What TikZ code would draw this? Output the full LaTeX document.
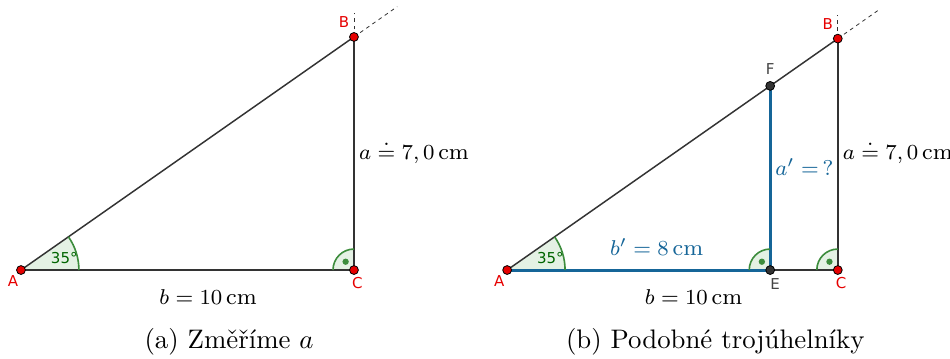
\documentclass[tikz,border=0pt]{standalone}
\usepackage{fontspec}
\newfontfamily\geofont{DejaVu Sans}
\definecolor{bodcerv}{RGB}{230,0,0}
\definecolor{cara}{RGB}{51,51,51}
\definecolor{sedy}{RGB}{68,68,68}
\definecolor{zelena}{RGB}{0,100,0}
\definecolor{oblouk}{RGB}{60,140,60}
\definecolor{zelenafill}{RGB}{228,241,228}
\definecolor{modra}{RGB}{21,101,152}
\usepackage{tikz}
\usetikzlibrary{positioning,calc}

\begin{document}
\begin{tikzpicture}[
    x=0.4366cm, y=0.4366cm,
    font=\fontsize{8.4}{10}\selectfont,
    strana/.style={draw=cara, line width=0.55pt},
    prodl/.style={draw=cara, dash pattern=on 1.4pt off 1.4pt, line width=0.3pt},
    modrastr/.style={draw=modra, line width=1.1pt},
    vypln/.style={fill=zelenafill},
    oblouk/.style={draw=oblouk, line width=0.6pt},
    tecka/.style={fill=oblouk},
    bod/.style={circle, draw=black, fill=bodcerv, line width=0.3pt, inner sep=0pt, minimum size=3.3pt},
    bodsedy/.style={bod, fill=cara},
    jmeno/.style={font=\geofont\fontsize{5.6}{6}\selectfont, text=bodcerv, inner sep=0pt},
    jmenosedy/.style={jmeno, text=sedy},
    stupne/.style={font=\geofont\fontsize{5.6}{6}\selectfont, text=zelena, inner sep=0pt}
  ]
    \useasboundingbox (-0.63,-2.67) rectangle (27.9,8.11);

    % (a) mereni strany a
    \coordinate (A) at (0,0);
    \coordinate (C) at (10,0);
    \coordinate (B) at (10,7.0);

    \fill[vypln] (A) -- ++(1.74,0) arc[start angle=0, end angle=35, radius=1.74] -- cycle;
    \fill[vypln] (C) -- ++(0,0.63) arc[start angle=90, end angle=180, radius=0.63] -- cycle;

    \draw[strana] (A) -- (C);
    \draw[strana] (A) -- (B);
    \draw[strana] (B) -- (C);
    \draw[prodl] (B) -- ($(A)!1.13!(B)$);
    \draw[prodl] (B) -- ++(0,0.72);

    \draw[oblouk] ($(A)+(1.74,0)$) arc[start angle=0, end angle=35, radius=1.74];
    \draw[oblouk] ($(C)+(0,0.63)$) arc[start angle=90, end angle=180, radius=0.63];
    \fill[tecka] ($(C)+(-0.25,0.25)$) circle (0.095);

    \node[bod] (bA) at (A) {};
    \node[bod] (bB) at (B) {};
    \node[bod] (bC) at (C) {};
    \node[jmeno] (lA) at (-0.24,-0.33) {A};
    \node[jmeno] (lB) at ($(B)+(-0.3,0.45)$) {B};
    \node[jmeno] (lC) at ($(C)+(0.1,-0.4)$) {C};
    \node[stupne] (uA) at (1.3,0.36) {35°};

    \node (b) at (5.62,-0.8) {$b=10\,\mathrm{cm}$};
    \node[anchor=west, inner sep=0pt] (a) at (10.14,3.55) {$a\doteq 7,0\,\mathrm{cm}$};
    \node[font=\normalsize] (capa) at (6.25,-2.17) {(a) Změříme $a$};

    % (b) podobne trojuhelniky
    \begin{scope}[shift={(14.6,0)}]
      \coordinate (pA) at (0,0);
      \coordinate (pC) at (9.93,0);
      \coordinate (pB) at (9.93,6.95);
      \coordinate (pE) at (7.9,0);
      \coordinate (pF) at (7.9,5.53);

      \fill[vypln] (pA) -- ++(1.74,0) arc[start angle=0, end angle=35, radius=1.74] -- cycle;
      \fill[vypln] (pC) -- ++(0,0.63) arc[start angle=90, end angle=180, radius=0.63] -- cycle;
      \fill[vypln] (pE) -- ++(0,0.63) arc[start angle=90, end angle=180, radius=0.63] -- cycle;

      \draw[strana] (pA) -- (pC);
      \draw[strana] (pA) -- (pB);
      \draw[strana] (pB) -- (pC);
      \draw[prodl] (pB) -- ($(pA)!1.13!(pB)$);
      \draw[prodl] (pB) -- ++(0,0.72);
      \draw[modrastr] (pA) -- (pE);
      \draw[modrastr] (pE) -- (pF);

      \draw[oblouk] ($(pA)+(1.74,0)$) arc[start angle=0, end angle=35, radius=1.74];
      \draw[oblouk] ($(pC)+(0,0.63)$) arc[start angle=90, end angle=180, radius=0.63];
      \draw[oblouk] ($(pE)+(0,0.63)$) arc[start angle=90, end angle=180, radius=0.63];
      \fill[tecka] ($(pC)+(-0.25,0.25)$) circle (0.095);
      \fill[tecka] ($(pE)+(-0.25,0.25)$) circle (0.095);

      \node[bod] (pbA) at (pA) {};
      \node[bod] (pbB) at (pB) {};
      \node[bod] (pbC) at (pC) {};
      \node[bodsedy] (pbE) at (pE) {};
      \node[bodsedy] (pbF) at (pF) {};
      \node[jmeno] (plA) at (-0.24,-0.33) {A};
      \node[jmeno] (plB) at ($(pB)+(-0.3,0.45)$) {B};
      \node[jmeno] (plC) at ($(pC)+(0.1,-0.4)$) {C};
      \node[jmenosedy] (plE) at ($(pE)+(0.15,-0.42)$) {E};
      \node[jmenosedy] (plF) at ($(pF)+(0,0.5)$) {F};
      \node[stupne] (puA) at (1.3,0.36) {35°};

      \node (pb) at (5.6,-0.8) {$b=10\,\mathrm{cm}$};
      \node[text=modra] (pbc) at (4.49,0.68) {$b'=8\,\mathrm{cm}$};
      \node[anchor=west, inner sep=0pt, text=modra] (pac) at (8.04,3.09) {$a'=\,?$};
      \node[anchor=west, inner sep=0pt] (pa) at (10.07,3.55) {$a\doteq 7,0\,\mathrm{cm}$};
      \node[font=\normalsize] (capb) at (6.25,-2.17) {(b) Podobné trojúhelníky};
    \end{scope}
  \end{tikzpicture}
\end{document}
